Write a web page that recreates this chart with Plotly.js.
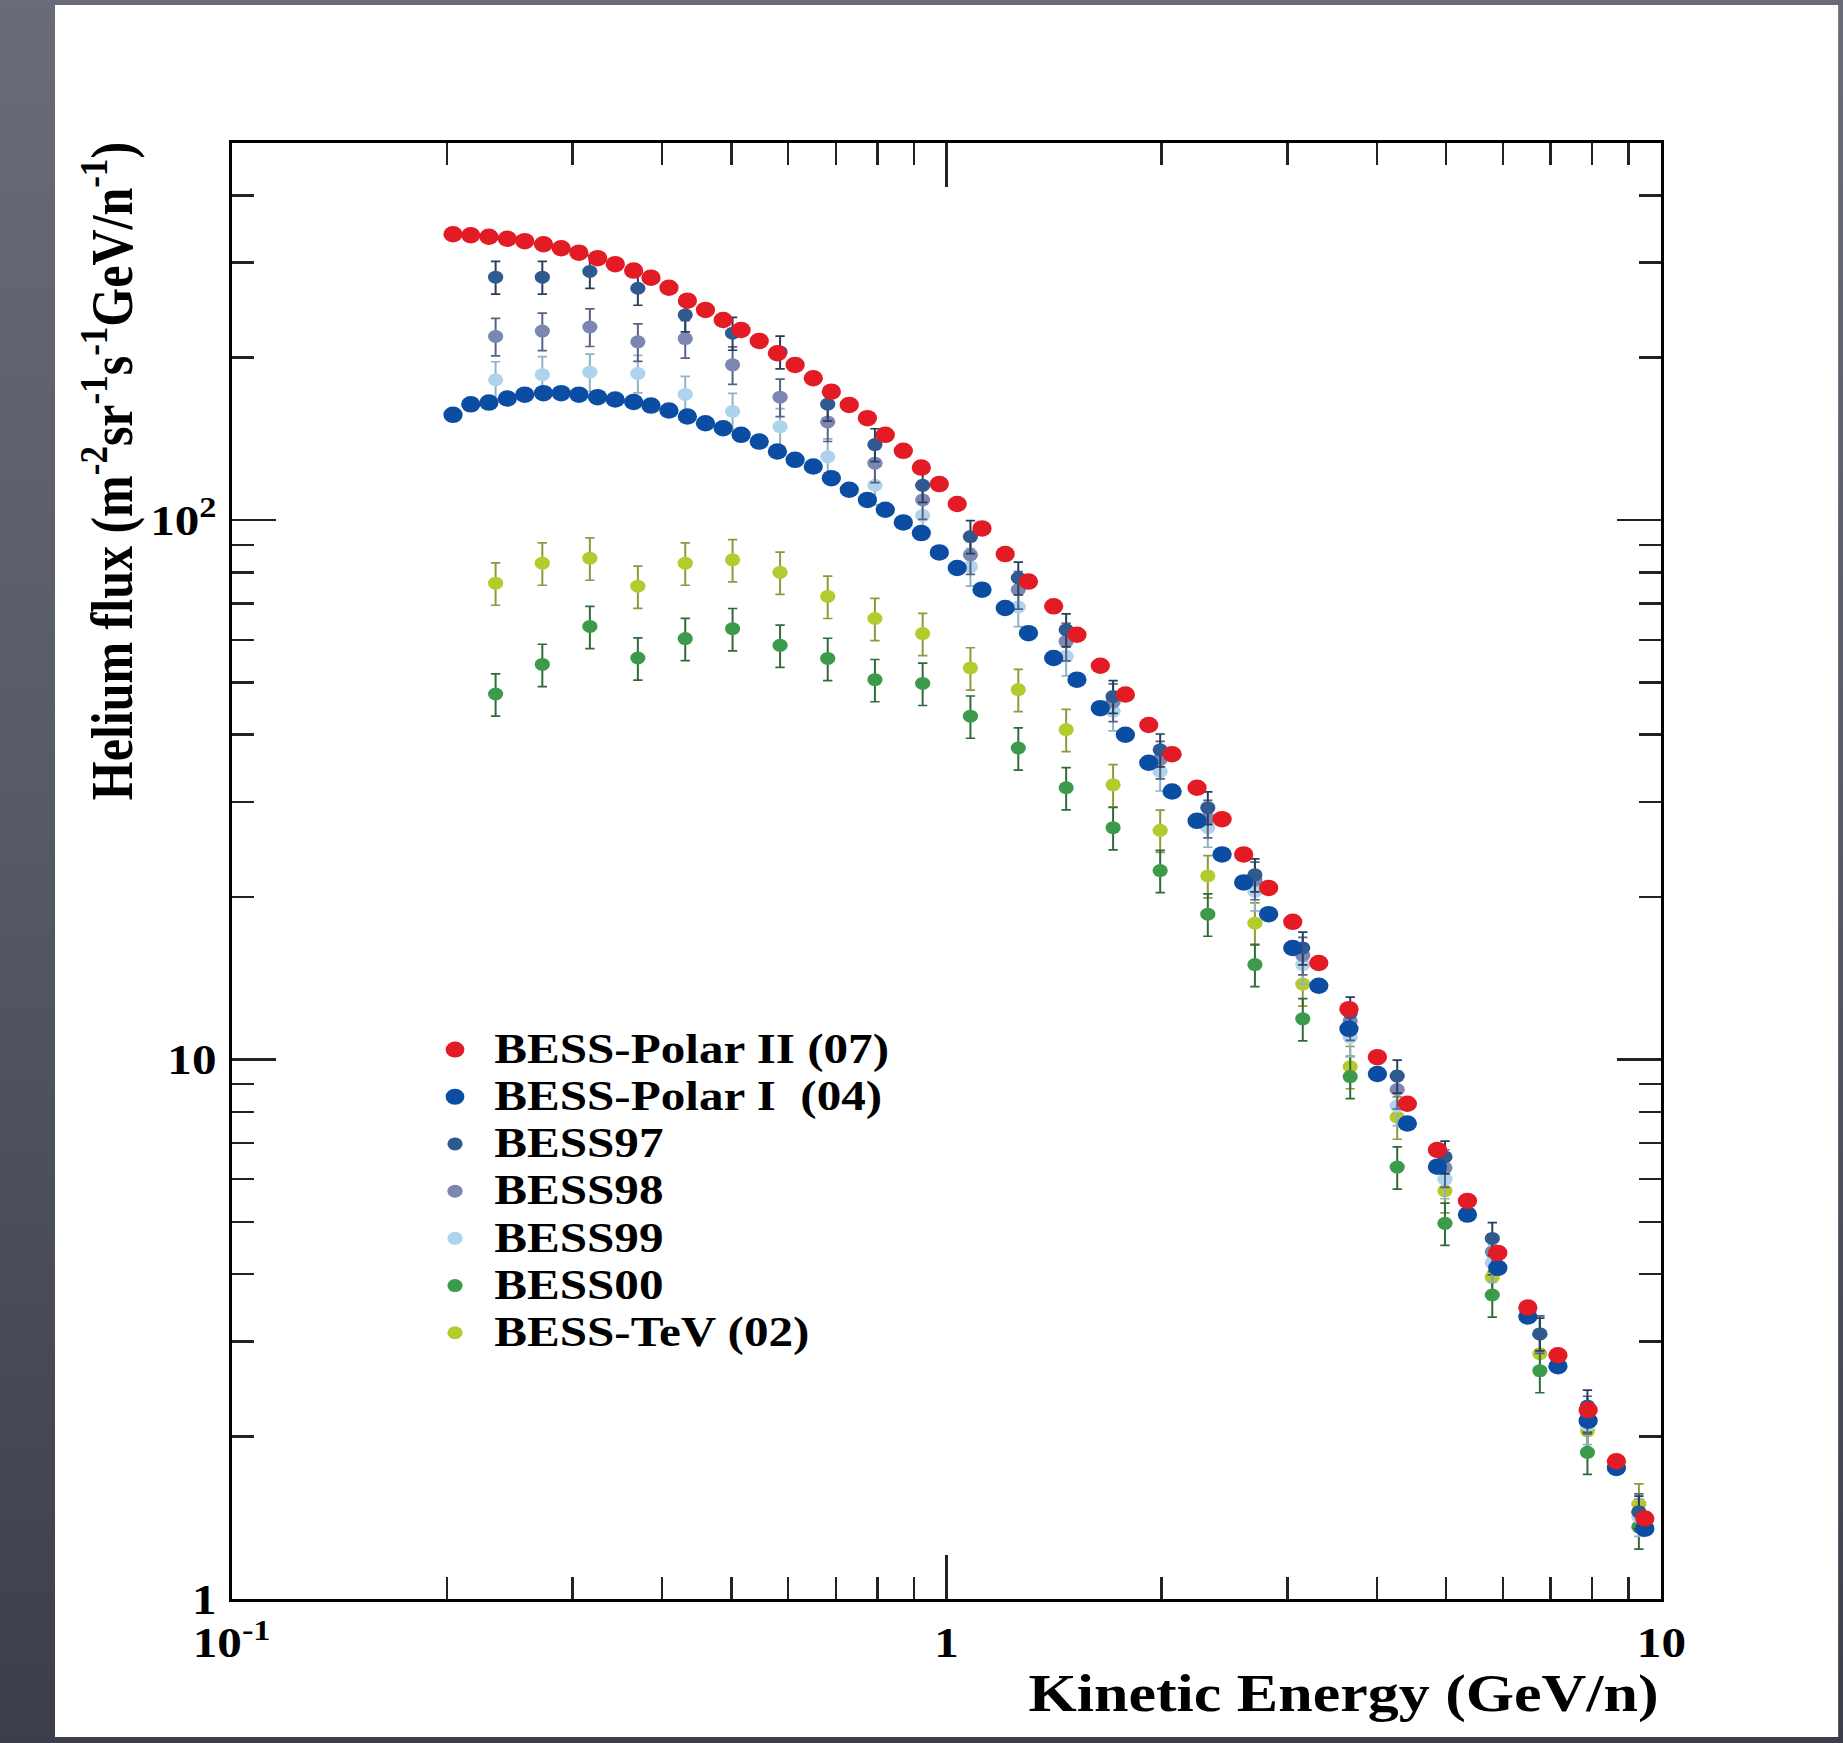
<!DOCTYPE html>
<html>
<head>
<meta charset="utf-8">
<script src="https://cdn.plot.ly/plotly-3.0.1.min.js"></script>
<style>
  html, body { margin: 0; padding: 0; width: 1843px; height: 1743px; overflow: hidden;
    background: linear-gradient(180deg, #696b77 0%, #575a67 45%, #3c3f4b 100%); }
  /* the figure is laid out narrow and widened, giving the broad lettering and oval markers */
  #chart { position: absolute; left: 55px; top: 5px; width: 1524px; height: 1732px; background: #fff;
    transform: scaleX(1.17); transform-origin: 0 0; }
</style>
</head>
<body>
<div id="chart"></div>
<script>
// Kinetic energy bins (GeV/n) of the BESS-Polar flights
const energyPolar = [0.204, 0.216, 0.229, 0.243, 0.257, 0.273, 0.289, 0.306, 0.325, 0.344,
  0.365, 0.386, 0.409, 0.434, 0.460, 0.487, 0.516, 0.547, 0.580, 0.614,
  0.651, 0.690, 0.731, 0.775, 0.821, 0.870, 0.922, 0.977, 1.035, 1.121,
  1.208, 1.302, 1.412, 1.522, 1.641, 1.779, 1.918, 2.068, 2.241, 2.429,
  2.604, 2.822, 3.05, 3.317, 3.655, 4.006, 4.412, 4.861, 5.354, 5.904,
  6.504, 7.166, 7.898, 8.650, 9.48];

// Helium flux (m^-2 sr^-1 s^-1 (GeV/n)^-1)
const fluxPolarII = [338.7, 337.3, 335.1, 332.3, 328.8, 324.6, 319.1, 313.1, 305.8, 298.1,
  290.0, 281.4, 269.6, 255.1, 245.2, 234.9, 225.1, 214.8, 203.8, 193.9,
  183.2, 173.0, 163.5, 154.5, 143.9, 134.4, 125.1, 116.6, 107.1, 96.5,
  86.5, 76.9, 69.2, 61.3, 53.7, 47.5, 41.7, 36.8, 31.9, 27.9,
  24.0, 20.8, 18.0, 15.1, 12.4, 10.1, 8.28, 6.80, 5.47, 4.38,
  3.47, 2.83, 2.24, 1.80, 1.41];

const fluxPolarI = [156.7, 163.9, 165.1, 168.0, 170.8, 171.9, 171.9, 170.8, 169.0, 167.3,
  165.5, 163.0, 159.6, 155.6, 151.2, 148.0, 143.9, 139.8, 134.0, 129.3,
  125.7, 119.6, 113.8, 109.0, 104.5, 99.0, 94.6, 87.1, 81.5, 74.3,
  68.7, 61.7, 55.5, 50.6, 44.8, 40.0, 35.5, 31.4, 27.7, 24.0,
  21.3, 18.6, 16.1, 13.7, 11.4, 9.40, 7.61, 6.33, 5.16, 4.11,
  3.34, 2.70, 2.14, 1.75, 1.35];

// Kinetic energy bins (GeV/n) of the earlier BESS flights
const energyBess = [0.234, 0.272, 0.317, 0.370, 0.431, 0.502, 0.585, 0.682, 0.794, 0.926,
  1.08, 1.26, 1.47, 1.71, 1.99, 2.32, 2.70, 3.15, 3.67, 4.27,
  4.98, 5.80, 6.76, 7.88, 9.30];

const flux97 = [282, 282, 289, 269, 240, 222, 205, 164, 138, 116,
  93.2, 78.1, 62.6, 47.1, 37.5, 29.3, 22.0, 16.1, 12.2, 9.32,
  6.6, 4.66, 3.1, 2.28, 1.45];

const flux98 = [219, 224, 228, 214, 217, 194, 169, 152, 127.5, 109,
  86.2, 74.3, 59.6, 46.0, 36.0, 28.0, 21.5, 15.6, 11.8, 8.8,
  6.3, 4.4, 3.1, 2.2, 1.45];

const flux99 = [182, 186, 188, 187, 171, 159, 149, 131, 116, 102,
  82, 69, 55.9, 44.2, 34.2, 26.9, 20.5, 15.0, 11.0, 8.2,
  6.0, 4.2, 3.1, 2.1, 1.42];

const flux00 = [47.6, 54.0, 63.5, 55.5, 60.3, 62.9, 58.6, 55.4, 50.6, 49.8,
  43.3, 37.8, 31.9, 26.9, 22.4, 18.6, 15.0, 11.9, 9.3, 6.32,
  4.97, 3.66, 2.65, 1.87, 1.36];

const fluxTeV = [76.4, 83.2, 85.0, 75.4, 83.2, 84.4, 80.0, 72.2, 65.7, 61.6,
  53.2, 48.5, 40.9, 32.3, 26.6, 21.9, 17.9, 13.8, 9.7, 7.82,
  5.71, 3.95, 2.85, 2.05, 1.50];

// Axis tick labels
const xTickVals = [0.1, 1, 10];
const xTickText = ['10<sup>-1</sup>', '1', '10'];
const xMinorVals = [0.2, 0.3, 0.4, 0.5, 0.6, 0.7, 0.8, 0.9, 2, 3, 4, 5, 6, 7, 8, 9];
const yTickVals = [1, 10, 100];
const yTickText = ['1', '10', '10<sup>2</sup>'];
const yMinorVals = [2, 3, 4, 5, 6, 7, 8, 9, 20, 30, 40, 50, 60, 70, 80, 90, 200, 300, 400];

const serif = '"Liberation Serif", "Times New Roman", Times, serif';
const legendLabel = (s) => '<span style="font-size:42px">' + s + '</span>';

function bessTrace(name, y, color, barColor, pct) {
  return {
    x: energyBess, y: y, name: legendLabel(name), type: 'scatter', mode: 'markers',
    marker: { color: color, size: 13, symbol: 'circle' },
    error_y: { type: 'percent', value: pct, color: barColor, thickness: 1.7, width: 4 },
    hoverinfo: 'x+y+name'
  };
}

const traces = [
  bessTrace('BESS-TeV (02)', fluxTeV, '#b4cb2e', '#8d9a3c', 9),
  bessTrace('BESS00', flux00, '#3b9b4a', '#2f6a38', 9),
  bessTrace('BESS99', flux99, '#aed3ec', '#8fb2c6', 8),
  bessTrace('BESS98', flux98, '#7c86b3', '#5a6186', 8),
  bessTrace('BESS97', flux97, '#2f5a8e', '#283e5e', 7),
  { x: energyPolar, y: fluxPolarI, name: legendLabel('BESS-Polar I\u00a0\u00a0(04)'), type: 'scatter', mode: 'markers',
    marker: { color: '#0b4da3', size: 16.5, symbol: 'circle' } },
  { x: energyPolar, y: fluxPolarII, name: legendLabel('BESS-Polar II (07)'), type: 'scatter', mode: 'markers',
    marker: { color: '#e31b24', size: 16.5, symbol: 'circle' } }
];

const tickFont = { family: serif, size: 42, color: '#000', weight: 'bold' };

const layout = {
  width: 1524, height: 1732,
  margin: { l: 151, r: 151, t: 138, b: 138 },
  paper_bgcolor: '#ffffff', plot_bgcolor: '#ffffff',
  showlegend: true,
  xaxis: {
    type: 'log', range: [-1, 1],
    tickmode: 'array', tickvals: xTickVals, ticktext: xTickText,
    ticks: 'inside', ticklen: 44, tickwidth: 2.2, tickcolor: '#222',
    showline: true, linewidth: 3, linecolor: '#000', mirror: 'allticks',
    showgrid: false, zeroline: false, tickfont: tickFont, ticklabelstandoff: 5,
    minor: { tickmode: 'array', tickvals: xMinorVals, ticks: 'inside', ticklen: 22, tickwidth: 2.2, tickcolor: '#222', showgrid: false }
  },
  yaxis: {
    type: 'log', range: [0, Math.log10(500)],
    tickmode: 'array', tickvals: yTickVals, ticktext: yTickText,
    ticks: 'inside', ticklen: 38, tickwidth: 2.5, tickcolor: '#222',
    showline: true, linewidth: 2.6, linecolor: '#000', mirror: 'allticks',
    showgrid: false, zeroline: false, tickfont: tickFont, ticklabelstandoff: 2,
    minor: { tickmode: 'array', tickvals: yMinorVals, ticks: 'inside', ticklen: 19, tickwidth: 2.5, tickcolor: '#222', showgrid: false }
  },
  legend: {
    x: 0.1288, y: 0.397, xanchor: 'left', yanchor: 'top',
    bgcolor: 'rgba(0,0,0,0)', borderwidth: 0,
    font: { family: serif, size: 34, color: '#000', weight: 'bold' },
    itemwidth: 57, traceorder: 'reversed', tracegroupgap: 0
  },
  annotations: [
    { text: 'Kinetic Energy (GeV/n)', xref: 'paper', yref: 'paper', x: 1.0, y: -0.065,
      xanchor: 'right', yanchor: 'middle', showarrow: false,
      font: { family: serif, size: 53, color: '#000', weight: 'bold' } },
    { text: 'Helium flux (m<sup>-2</sup>sr<sup>-1</sup>s<sup>-1</sup>GeV/n<sup>-1</sup>)',
      xref: 'paper', yref: 'paper', x: -0.0863, y: 1.0016, textangle: -90,
      xanchor: 'center', yanchor: 'top', showarrow: false,
      font: { family: serif, size: 50, color: '#000', weight: 'bold' } }
  ]
};

Plotly.newPlot('chart', traces, layout, { displayModeBar: false, staticPlot: true });
</script>
</body>
</html>
